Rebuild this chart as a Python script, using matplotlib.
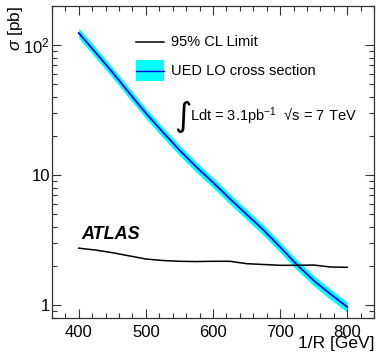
import numpy as np
import matplotlib
matplotlib.use("Agg")
import matplotlib.pyplot as plt
from matplotlib.ticker import MultipleLocator, FixedLocator, FixedFormatter, LogLocator, NullFormatter

plt.rcParams['font.family'] = ['Liberation Sans', 'DejaVu Sans']
plt.rcParams['mathtext.fontset'] = 'custom'
plt.rcParams['mathtext.rm'] = 'Liberation Sans'
plt.rcParams['mathtext.it'] = 'Liberation Sans:italic'
plt.rcParams['mathtext.bf'] = 'Liberation Sans:bold'

# 1/R [GeV]
inv_r = [400, 425, 450, 475, 500, 525, 550, 575, 600, 625, 650, 675, 700, 725, 750, 775, 800]
# UED LO cross section [pb]
xsec = [124, 88, 62, 43, 30, 21.5, 15.6, 11.6, 8.8, 6.6, 5.0, 3.8, 2.8, 2.05, 1.55, 1.22, 0.97]
xsec_rel_unc = 0.09
# 95% CL limit [pb]
limit = [2.75, 2.66, 2.54, 2.40, 2.27, 2.21, 2.18, 2.17, 2.18, 2.18, 2.09, 2.06, 2.03, 2.03, 2.04, 1.97, 1.96]

x = np.array(inv_r)
y = np.array(xsec)

fig = plt.figure(figsize=(3.76, 3.56), dpi=100)
ax = fig.add_axes([0.138, 0.107, 0.857, 0.876])

ax.fill_between(x, y * (1 - xsec_rel_unc), y * (1 + xsec_rel_unc),
                color='#00ffff', lw=0)
ax.plot(x, y, color='#0000ee', lw=1.3)
ax.plot(x, limit, color='black', lw=1.1)

ax.set_yscale('log')
ax.set_xlim(360, 840)
ax.set_ylim(0.8, 200)

ax.xaxis.set_major_locator(MultipleLocator(100))
ax.xaxis.set_minor_locator(MultipleLocator(20))
ax.yaxis.set_major_locator(FixedLocator([1, 10, 100]))
ax.yaxis.set_major_formatter(FixedFormatter(['1', '10', r'$10^{2}$']))
ax.yaxis.set_minor_locator(LogLocator(base=10, subs=np.arange(2, 10)))
ax.yaxis.set_minor_formatter(NullFormatter())

ax.tick_params(which='both', direction='in', top=True, right=True,
               color='#333333', labelsize=12, width=0.8)
ax.tick_params(which='major', length=6.5)
ax.tick_params(which='minor', length=3.3)
ax.tick_params(axis='x', which='major', pad=5)
ax.tick_params(axis='y', which='major', pad=1.5)
for s in ax.spines.values():
    s.set_color('#333333')
    s.set_linewidth(0.9)

ax.set_xlabel('1/R [GeV]', fontsize=12.5, ha='right', va='center')
ax.xaxis.set_label_coords(1.0, -0.083)
ax.set_ylabel(r'$\sigma$ [pb]', fontsize=12.5, ha='right', va='center')
ax.yaxis.set_label_coords(-0.112, 1.0)

# legend
ta = ax.transAxes
ax.plot([0.261, 0.348], [0.885, 0.885], color='black', lw=1.1, transform=ta)
ax.fill_between([0.261, 0.348], [0.760, 0.760], [0.827, 0.827],
                color='#00ffff', lw=0, transform=ta)
ax.plot([0.261, 0.348], [0.793, 0.793], color='#0000ee', lw=1.0, transform=ta)
ax.text(0.370, 0.885, '95% CL Limit', fontsize=10.5, va='center', transform=ta)
ax.text(0.370, 0.793, 'UED LO cross section', fontsize=10.5, va='center', transform=ta)

ax.text(0.379, 0.646, '\u222b', fontsize=24, va='center', ha='left',
        family=['DejaVu Sans'], transform=ta)
ax.text(0.430, 0.645, 'Ldt = 3.1pb$^{-1}$  \u221as = 7 TeV', fontsize=10.5,
        va='center', transform=ta)

ax.text(0.09, 0.269, 'ATLAS', fontsize=13, fontweight='bold', fontstyle='italic',
        va='center', transform=ta)

fig.savefig('out.png', dpi=100)
